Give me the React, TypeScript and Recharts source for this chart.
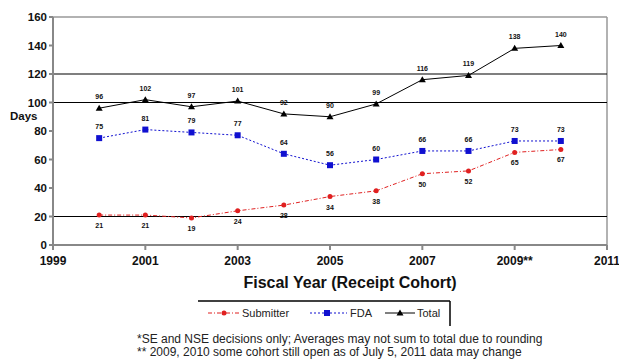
import React from "react";
import {
  ComposedChart,
  Line,
  XAxis,
  YAxis,
  ReferenceLine,
  LabelList,
} from "recharts";

const years = [2000, 2001, 2002, 2003, 2004, 2005, 2006, 2007, 2008, 2009, 2010];
const submitter = [21, 21, 19, 24, 28, 34, 38, 50, 52, 65, 67];
const fda = [75, 81, 79, 77, 64, 56, 60, 66, 66, 73, 73];
const total = [96, 102, 97, 101, 92, 90, 99, 116, 119, 138, 140];

const xTicks = [1999, 2001, 2003, 2005, 2007, 2009, 2011];
const yTicks = [0, 20, 40, 60, 80, 100, 120, 140, 160];
const blackLines = [20, 100, 120];

const data = years.map((y, i) => ({
  year: y,
  submitter: submitter[i],
  fda: fda[i],
  total: total[i],
}));

const font = "Arial, 'Liberation Sans', sans-serif";

const Triangle = (props: any) => {
  const { cx, cy } = props;
  if (cx == null) return null;
  return <path d={`M${cx},${cy - 3.5} L${cx + 3.5},${cy + 2.5} L${cx - 3.5},${cy + 2.5} Z`} fill="#000" />;
};

const Square = (props: any) => {
  const { cx, cy } = props;
  if (cx == null) return null;
  return <rect x={cx - 3} y={cy - 3} width={6} height={6} fill="#1010d0" />;
};

const Dot = (props: any) => {
  const { cx, cy } = props;
  if (cx == null) return null;
  return <circle cx={cx} cy={cy} r={2.5} fill="#e02020" />;
};

// legend drawn like the original boxed legend under the title
const LegendBox = () => (
  <svg width={260} height={30} style={{ position: "absolute", left: 197, top: 300 }}>
    <line x1={1} y1={1} x2={253} y2={1} stroke="#000" strokeWidth={1.5} />
    <line x1={253} y1={1} x2={253} y2={26} stroke="#000" strokeWidth={1.5} />
    <g fontFamily={font} fontSize={11} fill="#222">
      <line x1={11} y1={13} x2={43} y2={13} stroke="#e02020" strokeDasharray="4 2 1 2" />
      <circle cx={27} cy={13} r={2.5} fill="#e02020" />
      <text x={45} y={17}>Submitter</text>
      <line x1={113} y1={13} x2={150} y2={13} stroke="#1010d0" strokeDasharray="2 2" />
      <rect x={127} y={10} width={6} height={6} fill="#1010d0" />
      <text x={153} y={17}>FDA</text>
      <line x1={188} y1={13} x2={218} y2={13} stroke="#000" />
      <path d="M203,9.5 L206.5,15.5 L199.5,15.5 Z" fill="#000" />
      <text x={220} y={17}>Total</text>
    </g>
  </svg>
);

export default function App() {
  return (
    <div style={{ position: "absolute", left: 0, top: 0, width: 619, height: 362, background: "#fff", fontFamily: font }}>
      <ComposedChart
        width={619}
        height={362}
        data={data}
        margin={{ top: 17, right: 12, bottom: 97, left: 13 }}
      >
        <XAxis
          dataKey="year"
          type="number"
          domain={[1999, 2011]}
          ticks={xTicks}
          tickFormatter={(v) => (v === 2009 ? "2009**" : String(v))}
          stroke="#888"
          strokeWidth={2}
          tick={{ fill: "#111", fontSize: 12, fontWeight: "bold", fontFamily: font }}
          tickSize={5}
          tickMargin={6}
          height={20}
        />
        <YAxis
          domain={[0, 160]}
          ticks={yTicks}
          stroke="#888"
          strokeWidth={2}
          tick={{ fill: "#111", fontSize: 11.5, fontWeight: "bold", fontFamily: font }}
          tickSize={4}
          width={40}
        />
        <ReferenceLine y={160} stroke="#999" strokeWidth={1.5} />
        <ReferenceLine x={2011} stroke="#999" strokeWidth={1.5} />
        {blackLines.map((v) => (
          <ReferenceLine key={v} y={v} stroke="#000" strokeWidth={1.2} />
        ))}
        <Line
          dataKey="submitter"
          name="Submitter"
          stroke="#e02020"
          strokeDasharray="4 2 1 2"
          dot={<Dot />}
          isAnimationActive={false}
        >
          <LabelList dataKey="submitter" position="bottom" offset={8} fontSize={7} fontWeight="bold" fill="#111" />
        </Line>
        <Line
          dataKey="fda"
          name="FDA"
          stroke="#1010d0"
          strokeDasharray="2 2"
          dot={<Square />}
          isAnimationActive={false}
        >
          <LabelList dataKey="fda" position="top" offset={9} fontSize={7} fontWeight="bold" fill="#111" />
        </Line>
        <Line
          dataKey="total"
          name="Total"
          stroke="#000"
          strokeWidth={1}
          dot={<Triangle />}
          isAnimationActive={false}
        >
          <LabelList dataKey="total" position="top" offset={9} fontSize={7} fontWeight="bold" fill="#111" />
        </Line>
      </ComposedChart>
      <div style={{ position: "absolute", left: 10, top: 110, fontSize: 11.5, fontWeight: "bold", color: "#111" }}>Days</div>
      <div style={{ position: "absolute", left: 230, top: 274, width: 240, textAlign: "center", fontSize: 16, fontWeight: "bold", color: "#111" }}>
        Fiscal Year (Receipt Cohort)
      </div>
      <LegendBox />
      <div style={{ position: "absolute", left: 137, top: 333, fontSize: 12, color: "#222", lineHeight: "13px" }}>
        <div>*SE and NSE decisions only; Averages may not sum to total due to rounding</div>
        <div>** 2009, 2010 some cohort still open as of July 5, 2011 data may change</div>
      </div>
    </div>
  );
}
